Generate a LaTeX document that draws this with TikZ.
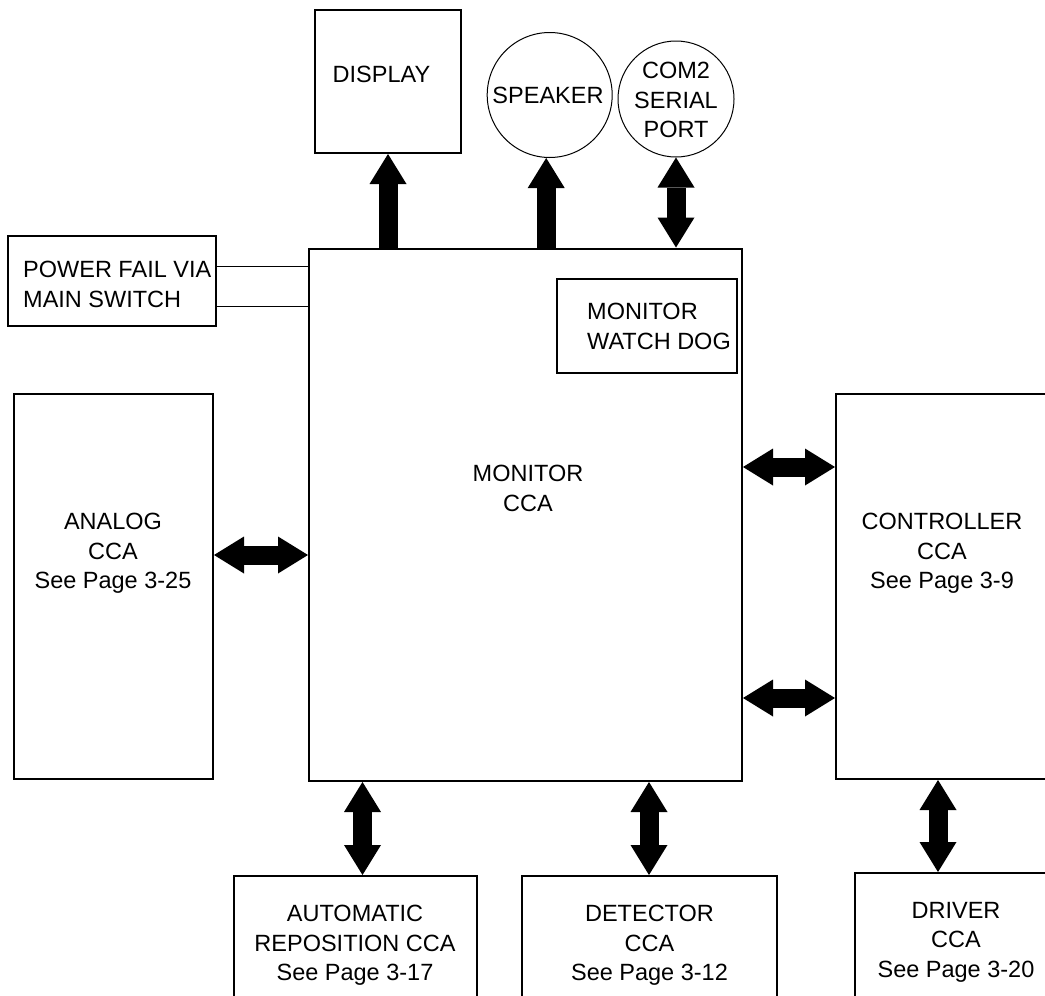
\documentclass[tikz,border=0pt]{standalone}
\usepackage{fontspec}
\setmainfont{Liberation Sans}
\usetikzlibrary{arrows.meta}
\tikzset{
  box/.style={draw=black, line width=2pt, inner sep=0pt, fill=none},
  ring/.style={draw=black, line width=1pt, circle, inner sep=0pt},
  txt/.style={inner sep=0pt, align=center, font=\fontsize{23.5}{29.5}\selectfont},
  thin/.style={line width=1.1pt},
  harr/.style={line width=19pt, -{Triangle[length=30pt,width=37pt,line width=0pt]}},
  barr/.style={line width=19pt, {Triangle[length=30pt,width=37pt,line width=0pt]}-{Triangle[length=30pt,width=37pt,line width=0pt]}}
}
\begin{document}
\begin{tikzpicture}[x=1pt,y=-1pt]
\clip (0,0) rectangle (1045,996);
\fill[white] (0,0) rectangle (1045,996);
% boxes
\node[box, minimum width=146pt, minimum height=143pt] (disp) at (388,81.5) {};
\node[ring, minimum size=125pt] (spk) at (549.7,95) {};
\node[ring, minimum size=116pt] (com) at (676,99) {};
\node[box, minimum width=433pt, minimum height=532.5pt] (main) at (525.5,514.75) {};
\node[box, minimum width=208pt, minimum height=90pt] (pf) at (112,281) {};
\node[box, minimum width=180pt, minimum height=94pt] (wd) at (647,326) {};
\node[box, minimum width=199pt, minimum height=385pt] (ana) at (113.5,586.5) {};
\node[box, minimum width=234pt, minimum height=385pt] (ctl) at (953,586.5) {};
\node[box, minimum width=242.5pt, minimum height=134pt] (auto) at (355.25,943) {};
\node[box, minimum width=255pt, minimum height=134pt] (det) at (649.5,943) {};
\node[box, minimum width=215pt, minimum height=140pt] (drv) at (962.5,943) {};
% texts
\node[txt, anchor=north] (disptext) at (381.5,66) {DISPLAY};
\node[txt, anchor=north] (spktext) at (548,87) {SPEAKER};
\node[txt, anchor=north] (comtext) at (676,62) {COM2\\SERIAL\\PORT};
\node[txt, anchor=north west, align=left] (pftext) at (23,261) {POWER FAIL VIA\\MAIN SWITCH};
\node[txt, anchor=north west, align=left] (wdtext) at (587,303) {MONITOR\\WATCH DOG};
\node[txt, anchor=north] (maintext) at (528,465) {MONITOR\\CCA};
\node[txt, anchor=north] (anatext) at (113,513) {ANALOG\\CCA\\See Page 3-25};
\node[txt, anchor=north] (ctltext) at (942,513) {CONTROLLER\\CCA\\See Page 3-9};
\node[txt, anchor=north] (autotext) at (355,905) {AUTOMATIC\\REPOSITION CCA\\See Page 3-17};
\node[txt, anchor=north] (dettext) at (649.5,905) {DETECTOR\\CCA\\See Page 3-12};
\node[txt, anchor=north] (drvtext) at (956,902) {DRIVER\\CCA\\See Page 3-20};
% power fail lines
\coordinate (pfa) at (216,266.7);
\coordinate (pfb) at (216,306.7);
\draw[thin] (pfa) -- (pfa -| main.west);
\draw[thin] (pfb) -- ([xshift=2pt]pfb -| main.west);
% arrows
\draw[harr] (main.north -| disp.south) -- (disp.south);
\draw[harr] ([xshift=-3.5pt]main.north -| spk.south) -- ([xshift=-3.5pt]spk.south);
\draw[barr] (main.north -| com.south) -- (com.south);
\coordinate (ay) at (0,555);
\draw[barr] (ana.east |- ay) -- (main.west |- ay);
\coordinate (c1) at (0,467);
\coordinate (c2) at (0,698);
\draw[barr] (main.east |- c1) -- (ctl.west |- c1);
\draw[barr] (main.east |- c2) -- (ctl.west |- c2);
\coordinate (b1) at (362.5,0);
\coordinate (b2) at (649,0);
\coordinate (b3) at (938,0);
\draw[barr] (main.south -| b1) -- (auto.north -| b1);
\draw[barr] (main.south -| b2) -- (det.north -| b2);
\draw[barr] (ctl.south -| b3) -- (drv.north -| b3);
\end{tikzpicture}
\end{document}
